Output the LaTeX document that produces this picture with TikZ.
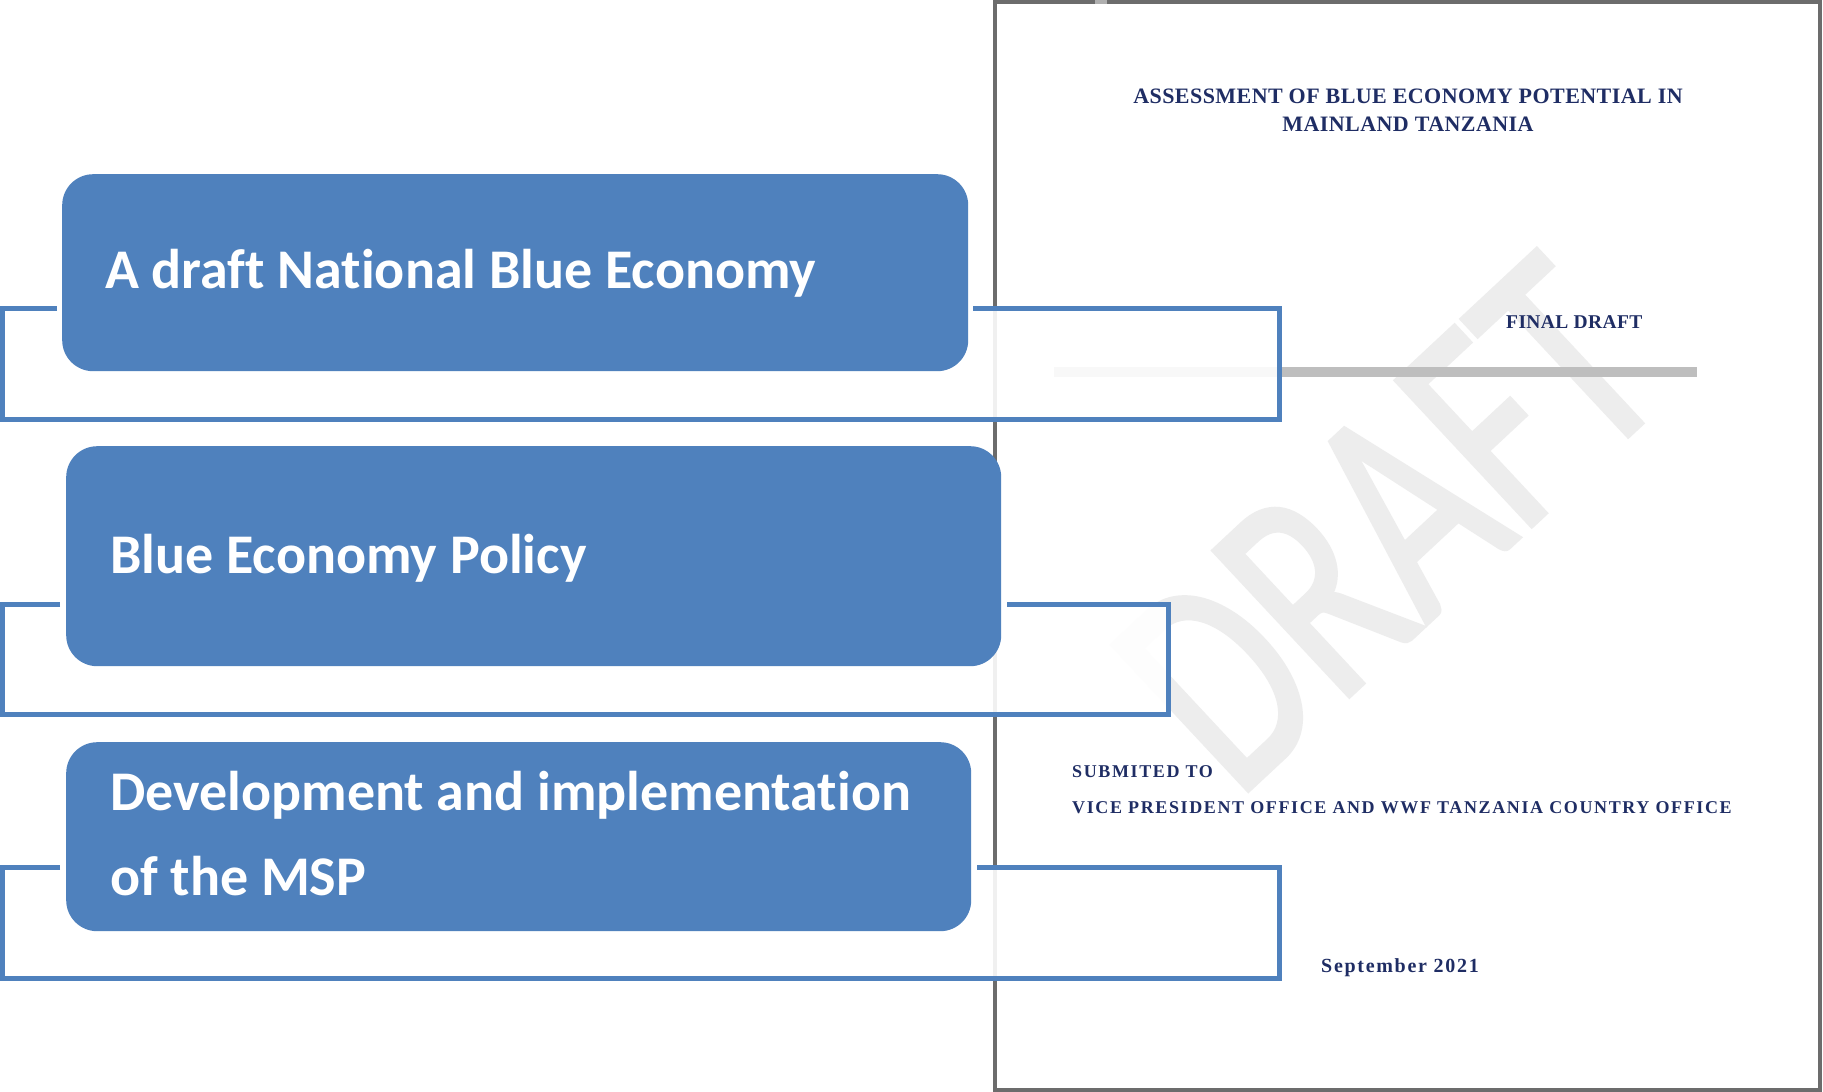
\documentclass[tikz,border=0pt]{standalone}
\usepackage{fontspec}
\usepackage{graphicx}
\setmainfont{Liberation Serif}
\newfontfamily\boxfont[Ligatures=NoCommon]{Carlito}
\newfontfamily\wmfont[FakeBold=1.5]{Carlito}
\newfontfamily\titlefont[LetterSpace=2]{Liberation Serif}
\newfontfamily\capsfont[LetterSpace=9]{Liberation Serif}
\newfontfamily\datefont[LetterSpace=8.5]{Liberation Serif}
\definecolor{accentblue}{RGB}{79,129,189}
\definecolor{pagetext}{RGB}{31,45,100}
\definecolor{pageborder}{RGB}{108,108,108}
\definecolor{wmgray}{RGB}{237,237,237}
\definecolor{rulegray}{RGB}{190,190,190}
\definecolor{tabgray}{RGB}{175,175,175}
\begin{document}
\begin{tikzpicture}[x=1pt,y=-1pt,
  stage/.style={draw=none, fill=accentblue, rounded corners=31pt, inner sep=0pt, anchor=north west},
  stagetext/.style={text=white, font=\boxfont\bfseries\fontsize{56}{85}\selectfont, anchor=base west, inner sep=0pt, align=left},
  bracket/.style={draw=accentblue, line width=5pt},
  veil/.style={fill=white, fill opacity=0.9},
  doctext/.style={text=pagetext, inner sep=0pt},
  watermark/.style={text=wmgray, font=\wmfont\fontsize{310}{310}\selectfont, rotate=43, inner sep=0pt}]
\useasboundingbox (0,0) rectangle (1823,1092);
\fill[white] (0,0) rectangle (1823,1092);

% document page
\node[watermark] (wm) at (1388,524) {\scalebox{0.72}[1]{DRAFT}};
\draw[pageborder, line width=4pt] (995,2) rectangle (1819.5,1089.5);
\fill[tabgray] (1095,0) rectangle (1107,4);
\coordinate (ruleL) at (1054,371.5);
\coordinate (ruleR) at (1697,371.5);
\draw[rulegray, line width=10pt] (ruleL) -- (ruleR);

\node[doctext, anchor=base, font=\titlefont\bfseries\fontsize{22}{28}\selectfont] (title1) at (1408,103) {ASSESSMENT OF BLUE ECONOMY POTENTIAL IN};
\node[doctext, anchor=base, font=\titlefont\bfseries\fontsize{22}{28}\selectfont] (title2) at (1408,131) {MAINLAND TANZANIA};
\node[doctext, anchor=base west, font=\titlefont\bfseries\fontsize{19.5}{24}\selectfont] (final) at (1506,328) {FINAL DRAFT};
\node[doctext, anchor=base west, font=\capsfont\bfseries\fontsize{18}{24}\selectfont] (subm) at (1072,777) {SUBMITED TO};
\node[doctext, anchor=base west, font=\capsfont\bfseries\fontsize{18}{24}\selectfont] (vice) at (1072,813) {VICE PRESIDENT OFFICE AND WWF TANZANIA COUNTRY OFFICE};
\node[doctext, anchor=base west, font=\datefont\bfseries\fontsize{20}{24}\selectfont] (date) at (1321,972) {September 2021};

% brackets
\coordinate (f1a) at (57,308);   \coordinate (f1b) at (2.5,308);
\coordinate (f1c) at (2.5,419);  \coordinate (f1d) at (1279,419);
\coordinate (f1e) at (1279,308); \coordinate (f1f) at (973,308);
\coordinate (f2a) at (60,604);   \coordinate (f2b) at (2.5,604);
\coordinate (f2c) at (2.5,714.5);\coordinate (f2d) at (1168.5,714.5);
\coordinate (f2e) at (1168.5,604);\coordinate (f2f) at (1007,604);
\coordinate (f3a) at (60,867);   \coordinate (f3b) at (2.5,867);
\coordinate (f3c) at (2.5,978.5);\coordinate (f3d) at (1279,978.5);
\coordinate (f3e) at (1279,867); \coordinate (f3f) at (977,867);
\path[veil] (f1b) rectangle (f1d);
\path[veil] (f2b) rectangle (f2d);
\path[veil] (f3b) rectangle (f3d);
\draw[bracket] (f1a) -- (f1b) -- (f1c) -- (f1d) -- (f1e) -- (f1f);
\draw[bracket] (f2a) -- (f2b) -- (f2c) -- (f2d) -- (f2e) -- (f2f);
\draw[bracket] (f3a) -- (f3b) -- (f3c) -- (f3d) -- (f3e) -- (f3f);

% stage boxes
\node[stage, minimum width=906pt, minimum height=197pt] (box1) at (62,174) {};
\node[stage, minimum width=935pt, minimum height=220pt] (box2) at (66,446) {};
\node[stage, minimum width=905pt, minimum height=189pt] (box3) at (66,742) {};
\node[stagetext] (txt1) at (105,288) {A draft National Blue Economy};
\node[stagetext] (txt2) at (110,573) {Blue Economy Policy};
\node[stagetext] (txt3) at (110,895) {Development and implementation\\of the MSP};
\end{tikzpicture}
\end{document}
